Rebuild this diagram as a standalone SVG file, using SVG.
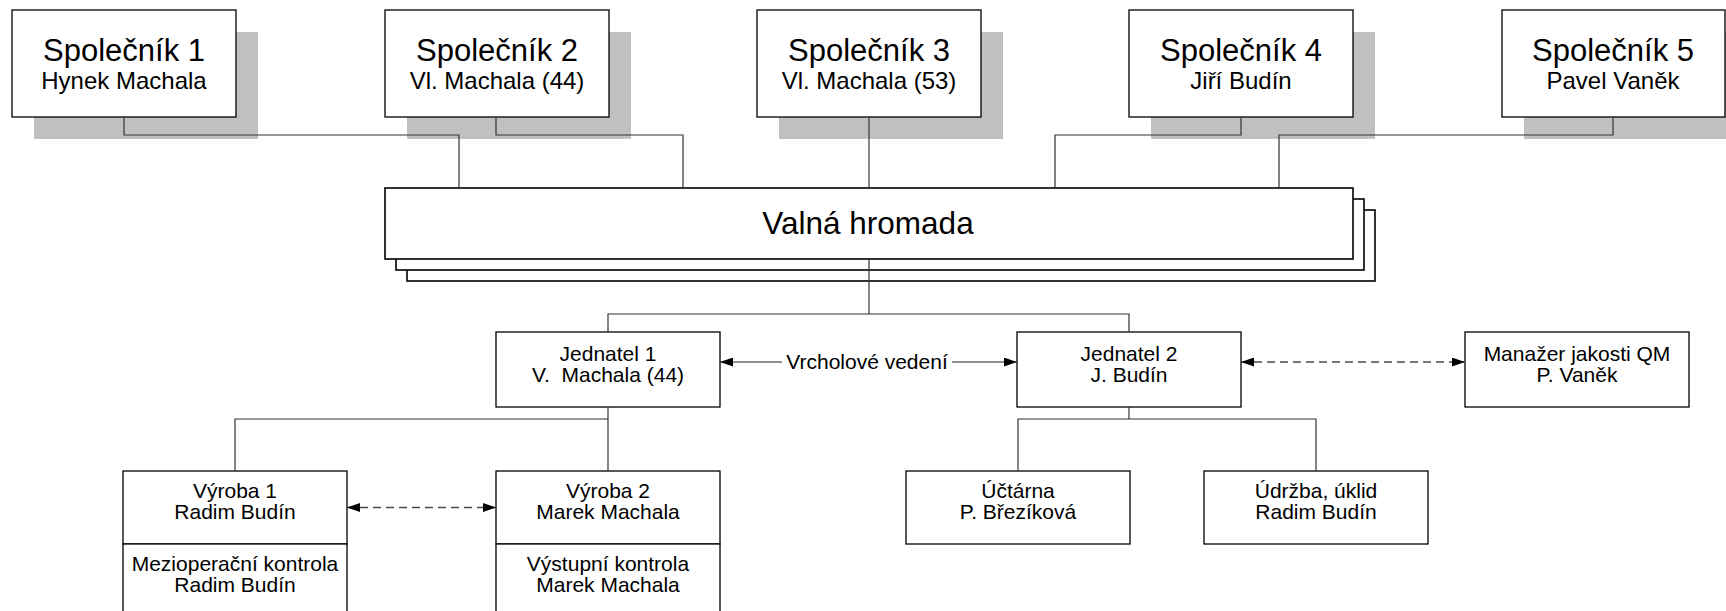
<svg xmlns="http://www.w3.org/2000/svg" width="1726" height="611" viewBox="0 0 1726 611">
<defs>
<style>
.bx{fill:#fff;stroke:#000;stroke-width:1.3}
.vb{fill:#fff;stroke:#000;stroke-width:1.6}
.sh{fill:#c0c0c0}
.ln{fill:none;stroke:#333;stroke-width:1.2}
.ar{fill:none;stroke:#222;stroke-width:1.2}
.da{fill:none;stroke:#4a4a4a;stroke-width:1.5;stroke-dasharray:8 5}
text{font-family:"Liberation Sans",Arial,sans-serif;fill:#000;text-anchor:middle}
.t1{font-size:31px}
.t2{font-size:24px}
.t3{font-size:21px}
.tv{font-size:31.5px}
</style>
<marker id="ah" viewBox="0 0 13 9" refX="13" refY="4.5" markerWidth="13" markerHeight="9" markerUnits="userSpaceOnUse" orient="auto-start-reverse">
<path d="M0,0 L13,4.5 L0,9 Z" fill="#000"/>
</marker>
</defs>
<rect width="1726" height="611" fill="#fff"/>

<g id="spolecnik1">
<rect class="sh" x="34" y="32" width="224" height="107"/>
<rect class="bx" x="12" y="10" width="224" height="107"/>
<text class="t1" x="124" y="61">Společník 1</text>
<text class="t2" x="124" y="89">Hynek Machala</text>
</g>
<g id="spolecnik2">
<rect class="sh" x="407" y="32" width="224" height="107"/>
<rect class="bx" x="385" y="10" width="224" height="107"/>
<text class="t1" x="497" y="61">Společník 2</text>
<text class="t2" x="497" y="89">Vl. Machala (44)</text>
</g>
<g id="spolecnik3">
<rect class="sh" x="779" y="32" width="224" height="107"/>
<rect class="bx" x="757" y="10" width="224" height="107"/>
<text class="t1" x="869" y="61">Společník 3</text>
<text class="t2" x="869" y="89">Vl. Machala (53)</text>
</g>
<g id="spolecnik4">
<rect class="sh" x="1151" y="32" width="224" height="107"/>
<rect class="bx" x="1129" y="10" width="224" height="107"/>
<text class="t1" x="1241" y="61">Společník 4</text>
<text class="t2" x="1241" y="89">Jiří Budín</text>
</g>
<g id="spolecnik5">
<rect class="sh" x="1524" y="32" width="224" height="107"/>
<rect class="bx" x="1502" y="10" width="223" height="107"/>
<text class="t1" x="1613" y="61">Společník 5</text>
<text class="t2" x="1613" y="89">Pavel Vaněk</text>
</g>

<g id="valna-hromada">
<rect class="vb" x="407" y="210" width="968" height="71"/>
<rect class="vb" x="396" y="199" width="968" height="71"/>
<rect class="vb" x="385" y="188" width="968" height="71"/>
<text class="tv" x="868" y="234">Valná hromada</text>
</g>

<g id="jednatel1">
<rect class="bx" x="496" y="332" width="224" height="75"/>
<text class="t3" x="608" y="361">Jednatel 1</text>
<text class="t3" x="608" y="382" xml:space="preserve">V.  Machala (44)</text>
</g>
<g id="jednatel2">
<rect class="bx" x="1017" y="332" width="224" height="75"/>
<text class="t3" x="1129" y="361">Jednatel 2</text>
<text class="t3" x="1129" y="382">J. Budín</text>
</g>
<g id="manazer-jakosti">
<rect class="bx" x="1465" y="332" width="224" height="75"/>
<text class="t3" x="1577" y="361">Manažer jakosti QM</text>
<text class="t3" x="1577" y="382">P. Vaněk</text>
</g>

<g id="vyroba1">
<rect class="bx" x="123" y="471" width="224" height="73"/>
<rect class="bx" x="123" y="544" width="224" height="80"/>
<text class="t3" x="235" y="498">Výroba 1</text>
<text class="t3" x="235" y="519">Radim Budín</text>
<text class="t3" x="235" y="571">Mezioperační kontrola</text>
<text class="t3" x="235" y="592">Radim Budín</text>
</g>
<g id="vyroba2">
<rect class="bx" x="496" y="471" width="224" height="73"/>
<rect class="bx" x="496" y="544" width="224" height="80"/>
<text class="t3" x="608" y="498">Výroba 2</text>
<text class="t3" x="608" y="519">Marek Machala</text>
<text class="t3" x="608" y="571">Výstupní kontrola</text>
<text class="t3" x="608" y="592">Marek Machala</text>
</g>
<g id="uctarna">
<rect class="bx" x="906" y="471" width="224" height="73"/>
<text class="t3" x="1018" y="498">Účtárna</text>
<text class="t3" x="1018" y="519">P. Březíková</text>
</g>
<g id="udrzba">
<rect class="bx" x="1204" y="471" width="224" height="73"/>
<text class="t3" x="1316" y="498">Údržba, úklid</text>
<text class="t3" x="1316" y="519">Radim Budín</text>
</g>

<g id="connectors">
<path class="ln" d="M124,117 V135 H459 V188"/>
<path class="ln" d="M496,117 V135 H683 V188"/>
<path class="ln" d="M869,117 V188"/>
<path class="ln" d="M1241,117 V135 H1055 V188"/>
<path class="ln" d="M1613,117 V135 H1279 V188"/>
<path class="ln" d="M869,259 V314"/>
<path class="ln" d="M608,332 V314 H1129 V332"/>
<path class="ln" d="M608,407 V471"/>
<path class="ln" d="M608,419 H235 V471"/>
<path class="ln" d="M1129,407 V419"/>
<path class="ln" d="M1018,471 V419 H1316 V471"/>
<path class="ar" d="M782,362 H720" marker-end="url(#ah)"/>
<path class="ar" d="M952,362 H1017" marker-end="url(#ah)"/>
<text class="t3" x="867" y="369">Vrcholové vedení</text>
<path class="da" d="M1241,362 H1465" marker-start="url(#ah)" marker-end="url(#ah)"/>
<path class="da" d="M347,507.5 H496" marker-start="url(#ah)" marker-end="url(#ah)"/>
</g>
</svg>
